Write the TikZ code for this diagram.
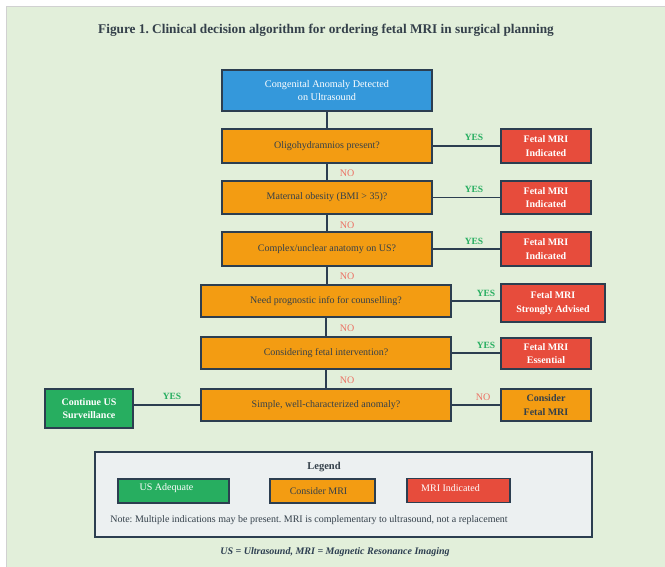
\documentclass[tikz,border=0pt]{standalone}
\usepackage{fontspec}
\setmainfont{Liberation Serif}
\frenchspacing
\definecolor{bgc}{HTML}{E2EFDA}
\definecolor{edge}{HTML}{2C3E50}
\definecolor{bluec}{HTML}{3498DB}
\definecolor{orng}{HTML}{F39C12}
\definecolor{redc}{HTML}{E74C3C}
\definecolor{grn}{HTML}{27AE60}
\definecolor{legfill}{HTML}{ECF0F1}
\definecolor{txt}{HTML}{34404A}
\begin{document}
\begin{tikzpicture}[x=1pt,y=-1pt,
  box/.style={draw=edge, line width=2pt, inner sep=0pt, align=center},
  startbox/.style={box, fill=bluec, text=white, font=\fontsize{10.2}{13.5}\selectfont},
  qbox/.style={box, fill=orng, text=txt, font=\fontsize{10}{13}\selectfont},
  redbox/.style={box, fill=redc, text=white, font=\bfseries\fontsize{10}{13.5}\selectfont},
  obox/.style={box, fill=orng, text=txt, font=\bfseries\fontsize{10}{13.5}\selectfont},
  gbox/.style={box, fill=grn, text=white, font=\bfseries\fontsize{10}{13.5}\selectfont},
  conn/.style={draw=edge, line width=1.6pt},
  yeslbl/.style={text=grn, font=\bfseries\fontsize{9.5}{10}\selectfont, inner sep=0pt},
  nolbl/.style={text=redc!80, font=\fontsize{10}{10}\selectfont, inner sep=0pt},
  swatch/.style={draw=edge, line width=1.3pt, inner sep=0pt, minimum height=24pt},
  swtext/.style={inner sep=0pt, font=\fontsize{10}{10}\selectfont}
]
\useasboundingbox (0,0) rectangle (665,567);
\fill[white] (0,0) rectangle (665,567);
\fill[bgc] (6,7) rectangle (665,567);
\draw[black!18, line width=1pt] (6,567) -- (6,7) -- (665,7);

\node[text=txt, font=\bfseries\fontsize{13.3}{15}\selectfont, inner sep=0pt] (title) at (326,30) {Figure 1. Clinical decision algorithm for ordering fetal MRI in surgical planning};

\node[startbox, minimum width=210pt, minimum height=41pt] (start) at (327,90.5) {Congenital Anomaly Detected\\on Ultrasound};

\node[qbox, minimum width=210pt, minimum height=34pt] (q1) at (327,146) {Oligohydramnios present?};
\node[qbox, minimum width=210pt, minimum height=33pt] (q2) at (327,197.5) {Maternal obesity (BMI > 35)?};
\node[qbox, minimum width=210pt, minimum height=34pt] (q3) at (327,249) {Complex/unclear anatomy on US?};
\node[qbox, minimum width=250pt, minimum height=32pt] (q4) at (326,301) {Need prognostic info for counselling?};
\node[qbox, minimum width=250pt, minimum height=32pt] (q5) at (326,353) {Considering fetal intervention?};
\node[qbox, minimum width=250pt, minimum height=32pt] (q6) at (326,405) {Simple, well-characterized anomaly?};

\node[redbox, minimum width=90pt, minimum height=34pt] (r1) at (546,146) {Fetal MRI\\Indicated};
\node[redbox, minimum width=90pt, minimum height=33pt] (r2) at (546,197.5) {Fetal MRI\\Indicated};
\node[redbox, minimum width=90pt, minimum height=34pt] (r3) at (546,249) {Fetal MRI\\Indicated};
\node[redbox, minimum width=104pt, minimum height=38pt] (r4) at (553,303) {Fetal MRI\\Strongly Advised};
\node[redbox, minimum width=90pt, minimum height=31pt] (r5) at (546,353.5) {Fetal MRI\\Essential};
\node[obox, minimum width=90pt, minimum height=32pt] (o6) at (546,405) {Consider\\Fetal MRI};
\node[gbox, minimum width=88pt, minimum height=39pt] (g6) at (89,408.5) {Continue US\\Surveillance};

\draw[conn] (start) -- (q1);
\draw[conn] (q1) -- (q2);
\draw[conn] (q2) -- (q3);
\draw[conn] (q3.south) -- (q3.south |- q4.north);
\draw[conn] (q4) -- (q5);
\draw[conn] (q5) -- (q6);
\draw[conn] (q1.east) -- (q1.east -| r1.west);
\draw[conn] (q2.east) -- (q2.east -| r2.west);
\draw[conn] (q3.east) -- (q3.east -| r3.west);
\draw[conn] (q4.east) -- (q4.east -| r4.west);
\draw[conn] (q5.east) -- (q5.east -| r5.west);
\draw[conn] (q6.east) -- (q6.east -| o6.west);
\draw[conn] (q6.west) -- (q6.west -| g6.east);

\node[yeslbl] (y1) at (474,137) {YES};
\node[yeslbl] (y2) at (474,189) {YES};
\node[yeslbl] (y3) at (474,241) {YES};
\node[yeslbl] (y4) at (486,293) {YES};
\node[yeslbl] (y5) at (486,345) {YES};
\node[yeslbl] (y6) at (172,396) {YES};
\node[nolbl] (n1) at (347,173) {NO};
\node[nolbl] (n2) at (347,225) {NO};
\node[nolbl] (n3) at (347,276) {NO};
\node[nolbl] (n4) at (347,328) {NO};
\node[nolbl] (n5) at (347,380) {NO};
\node[nolbl] (n6) at (483,397) {NO};

\node[draw=edge, line width=2pt, fill=legfill, minimum width=497pt, minimum height=85pt, inner sep=0pt] (leg) at (343.5,494.5) {};
\node[text=txt, font=\bfseries\fontsize{10.5}{12}\selectfont, inner sep=0pt] (legt) at (324,467) {Legend};
\node[swatch, fill=grn, minimum width=111pt] (s1) at (173.5,491) {};
\node[swatch, fill=orng, minimum width=105pt] (s2) at (322.5,491) {};
\node[swatch, fill=redc, minimum width=103pt] (s3) at (458.5,490.5) {};
\node[swtext, text=white] (s1t) at ([xshift=-7pt, yshift=3pt]s1.center) {US Adequate};
\node[swtext, text=txt] (s2t) at ([xshift=-4pt]s2.center) {Consider MRI};
\node[swtext, text=white] (s3t) at ([xshift=-8pt, yshift=2.5pt]s3.center) {MRI Indicated};
\node[text=txt, font=\fontsize{10}{12}\selectfont, inner sep=0pt] (note) at (309,520) {Note: Multiple indications may be present. MRI is complementary to ultrasound, not a replacement};

\node[text=edge, font=\bfseries\itshape\fontsize{10}{12}\selectfont, inner sep=0pt] (cap) at (335,552) {US = Ultrasound, MRI = Magnetic Resonance Imaging};
\end{tikzpicture}
\end{document}
